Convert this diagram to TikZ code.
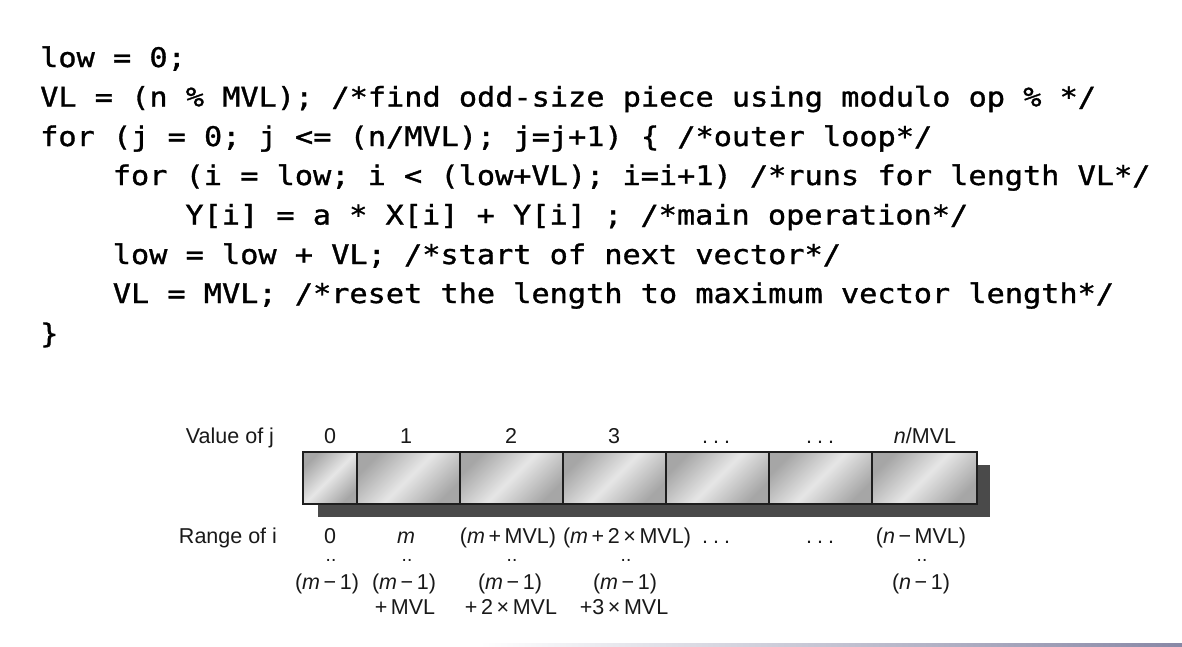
\documentclass[tikz,border=0pt]{standalone}
\usepackage{fontspec}
\newfontfamily\codefont{DejaVu Sans Mono}[FakeStretch=1.12,FakeBold=1.2]
\newfontfamily\dfont{Liberation Sans}
\definecolor{shadowgray}{HTML}{4A4A4A}
\definecolor{cellDark}{HTML}{A6A6A6}
\definecolor{cellLight}{HTML}{E6E6E6}
\definecolor{cellEdge}{HTML}{1E1E1E}
\definecolor{lineblue}{RGB}{136,136,166}
\begin{document}
\begin{tikzpicture}[x=1pt,y=-1pt,
  codeline/.style={anchor=base west, inner sep=0pt, font=\codefont\fontsize{27}{32}\selectfont\frenchspacing},
  lab/.style={anchor=base, inner sep=0pt, font=\dfont\fontsize{21.5}{24}\selectfont, text=black!90},
  dots/.style={anchor=base, inner sep=0pt, font=\dfont\fontsize{19}{20}\selectfont, text=black!90},
  cell/.style={rectangle, anchor=north west, inner sep=0pt, outer sep=0pt,
    minimum height=52pt, draw=cellEdge, line width=1.5pt,
    top color=cellDark, bottom color=cellDark, middle color=cellLight, shading angle=45}]
\useasboundingbox (0,0) rectangle (1182,646);
\fill[white] (0,0) rectangle (1182,646);
% code
\node[codeline] (l1) at (40,67) {low = 0;};
\node[codeline] (l2) at (40,106.5) {VL = (n \% MVL); /*find odd-size piece using modulo op \% */};
\node[codeline] (l3) at (40,146) {for (j = 0; j <= (n/MVL); j=j+1) \{ /*outer loop*/};
\node[codeline] (l4) at (112.6,185) {for (i = low; i < (low+VL); i=i+1) /*runs for length VL*/};
\node[codeline] (l5) at (185.2,224.5) {Y[i] = a * X[i] + Y[i] ; /*main operation*/};
\node[codeline] (l6) at (112.6,264) {low = low + VL; /*start of next vector*/};
\node[codeline] (l7) at (112.6,303) {VL = MVL; /*reset the length to maximum vector length*/};
\node[codeline] (l8) at (40,343) {\}};
% shadow
\fill[shadowgray] (318,465) rectangle (990,517);
% cells
\node[cell, minimum width=54pt]  (c0) at (303,452) {};
\node[cell, minimum width=103pt] (c1) at (357,452) {};
\node[cell, minimum width=103pt] (c2) at (460,452) {};
\node[cell, minimum width=103pt] (c3) at (563,452) {};
\node[cell, minimum width=103pt] (c4) at (666,452) {};
\node[cell, minimum width=103pt] (c5) at (769,452) {};
\node[cell, minimum width=105pt] (c6) at (872,452) {};
% value of j
\node[lab] (vj) at (230,443) {Value of j};
\node[lab] (j0) at (330,443) {0};
\node[lab] (j1) at (406,443) {1};
\node[lab] (j2) at (511,443) {2};
\node[lab] (j3) at (614,443) {3};
\node[lab] (j4) at (716,443) {.\hspace{5pt}.\hspace{5pt}.};
\node[lab] (j5) at (820,443) {.\hspace{5pt}.\hspace{5pt}.};
\node[lab] (j6) at (925,443) {\textit{n}/MVL};
% range of i
\node[lab] (ri) at (228,543) {Range of i};
\node[lab] (a0) at (330,543) {0};
\node[lab] (a1) at (406,543) {\textit{m}};
\node[lab] (a2) at (508,543) {(\textit{m}\,+\,MVL)};
\node[lab] (a3) at (627,543) {(\textit{m}\,+\,2\,×\,MVL)};
\node[lab] (a4) at (716,543) {.\hspace{5pt}.\hspace{5pt}.};
\node[lab] (a5) at (820,543) {.\hspace{5pt}.\hspace{5pt}.};
\node[lab] (a6) at (921,543) {(\textit{n}\,−\,MVL)};
% dots
\node[dots] (d0) at (331,561) {..};
\node[dots] (d1) at (407,561) {..};
\node[dots] (d2) at (512,561) {..};
\node[dots] (d3) at (626,561) {..};
\node[dots] (d6) at (922,561) {..};
% lower bounds
\node[lab] (b0) at (327,589) {(\textit{m}\,−\,1)};
\node[lab] (b1) at (404,589) {(\textit{m}\,−\,1)};
\node[lab] (b2) at (510,589) {(\textit{m}\,−\,1)};
\node[lab] (b3) at (625,589) {(\textit{m}\,−\,1)};
\node[lab] (b6) at (921,589) {(\textit{n}\,−\,1)};
\node[lab] (e1) at (405,614) {+\,MVL};
\node[lab] (e2) at (511,614) {+\,2\,×\,MVL};
\node[lab] (e3) at (624,614) {+3\,×\,MVL};
% bottom rule
\shade[left color=white, right color=lineblue] (480,643) rectangle (1182,646);
\end{tikzpicture}
\end{document}
